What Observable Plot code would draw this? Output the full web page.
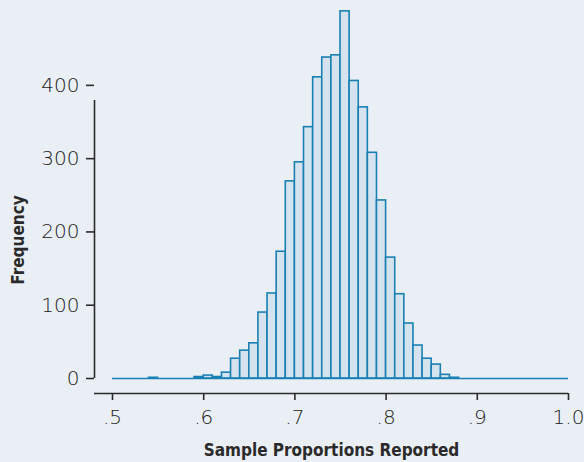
<!DOCTYPE html>
<html>
<head>
<meta charset="utf-8">
<script src="https://cdn.jsdelivr.net/npm/d3@7"></script>
<script src="https://cdn.jsdelivr.net/npm/@observablehq/plot@0.6"></script>
<style>
  html, body { margin: 0; padding: 0; background: #eaeff6; }
  #chart svg { display: block; background: #eaeff6; }
  #chart svg g[aria-label="y-axis tick label"] text,
  #chart svg g[aria-label="x-axis tick label"] text {
    font-family: "DejaVu Sans", sans-serif;
    font-size: 20px;
    font-weight: 300;
    fill: #222222;
  }
</style>
</head>
<body>
<div id="chart"></div>
<script>
// Bin starts (width 0.01) and frequencies
const binStarts = [0.50,0.51,0.52,0.53,0.54,0.55,0.56,0.57,0.58,0.59,
                   0.60,0.61,0.62,0.63,0.64,0.65,0.66,0.67,0.68,0.69,
                   0.70,0.71,0.72,0.73,0.74,0.75,0.76,0.77,0.78,0.79,
                   0.80,0.81,0.82,0.83,0.84,0.85,0.86,0.87,0.88,0.89,
                   0.90,0.91,0.92,0.93,0.94,0.95,0.96,0.97,0.98,0.99];
const frequencies = [0,0,0,0,1,0,0,0,0,2,
                     4,2,8,27,38,48,90,116,173,269,
                     295,343,411,438,441,501,406,370,308,243,
                     165,115,75,45,27,19,5,1,0,0,
                     0,0,0,0,0,0,0,0,0,0];
const binWidth = 0.01;
const xTicks = [0.5, 0.6, 0.7, 0.8, 0.9, 1.0];
const xTickLabels = [".5", ".6", ".7", ".8", ".9", "1.0"];
const yTicks = [0, 100, 200, 300, 400];
const xLabel = "Sample Proportions Reported";
const yLabel = "Frequency";

const data = binStarts.map((s, i) => ({x1: s, x2: s + binWidth, count: frequencies[i]}));

const barStroke = "#1a80b3";
const barFill = "#d5e3ee";
const axisColor = "#2a2a2a";
const titleFont = "'Liberation Sans Narrow', 'DejaVu Sans Condensed', sans-serif";

const chart = Plot.plot({
  width: 584,
  height: 462,
  marginLeft: 112,
  marginRight: 16,
  marginTop: 5,
  marginBottom: 84,
  style: {background: "#eaeff6", overflow: "visible"},
  x: {domain: [0.5, 1.0]},
  y: {domain: [0, 509]},
  marks: [
    Plot.rectY(data.filter(d => d.count > 0), {
      x1: "x1", x2: "x2", y: "count",
      fill: barFill, stroke: barStroke, strokeWidth: 1.6
    }),
    Plot.ruleY([0], {x1: 0.5, x2: 1.0, stroke: barStroke, strokeWidth: 1.6}),
    // axis spines (offset)
    Plot.ruleX([0.5], {y1: 0, y2: 400, dx: -18, insetBottom: -15, stroke: axisColor, strokeWidth: 1.6}),
    Plot.ruleY([0], {x1: 0.5, x2: 1.0, dy: 15, insetLeft: -18, stroke: axisColor, strokeWidth: 1.6}),
    Plot.axisY(yTicks, {
      anchor: "left", dx: -18, tickSize: 8, tickPadding: 7,
      stroke: axisColor, strokeWidth: 1.6, strokeOpacity: 1,
      label: null
    }),
    Plot.axisX(xTicks, {
      anchor: "bottom", dy: 15, tickSize: 7, tickPadding: 9,
      stroke: axisColor, strokeWidth: 1.6, strokeOpacity: 1,
      tickFormat: d => xTickLabels[xTicks.indexOf(d)],
      label: null
    }),
    Plot.text([xLabel], {
      frameAnchor: "bottom", dx: -9, dy: 77, text: d => d,
      fontSize: 17, fontWeight: "bold", fill: "#2a2a2a",
      fontFamily: titleFont
    }),
    Plot.text([yLabel], {
      frameAnchor: "left", textAnchor: "middle", dx: -94, dy: 48, rotate: -90, text: d => d,
      fontSize: 17, fontWeight: "bold", fill: "#2a2a2a",
      fontFamily: titleFont
    })
  ]
});
document.getElementById("chart").appendChild(chart);
</script>
</body>
</html>
